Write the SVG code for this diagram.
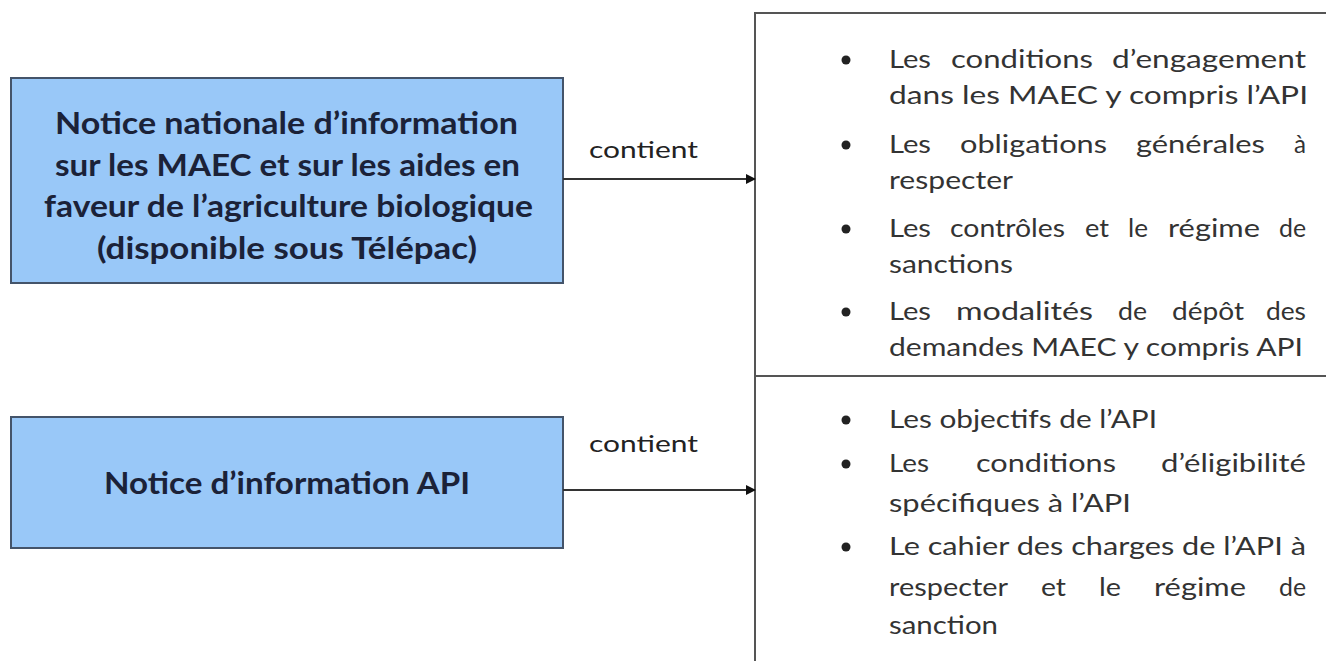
<svg xmlns="http://www.w3.org/2000/svg" width="1326" height="661" viewBox="0 0 1326 661">
<style>
.node{fill:#99c8f8;stroke:#44546a;stroke-width:2}
.title{font-family:Lato,"Liberation Sans",sans-serif;font-weight:bold;font-size:30px;fill:#1b2238}
.item{font-family:Lato,"Liberation Sans",sans-serif;font-size:25px;fill:#333}
.lbl{font-family:Lato,"Liberation Sans",sans-serif;font-size:24px;fill:#222}
.edge{stroke:#333;stroke-width:2;fill:none}
.frame{stroke:#555;stroke-width:2;fill:none}
</style>
<defs>
<marker id="arr" markerWidth="10" markerHeight="10" refX="9" refY="5" orient="auto" markerUnits="userSpaceOnUse">
<path d="M0,0 L10,5 L0,10 z" fill="#111"/>
</marker>
</defs>
<rect width="1326" height="661" fill="#fff"/>
<g id="n1">
<rect class="node" x="11" y="78" width="552" height="205"/>
<text class="title" x="55" y="134" textLength="463" lengthAdjust="spacingAndGlyphs">Notice nationale d’information</text>
<text class="title" x="55" y="176" textLength="465" lengthAdjust="spacingAndGlyphs">sur les MAEC et sur les aides en</text>
<text class="title" x="44" y="217" textLength="489" lengthAdjust="spacingAndGlyphs">faveur de l’agriculture biologique</text>
<text class="title" x="97" y="259" textLength="380" lengthAdjust="spacingAndGlyphs">(disponible sous Télépac)</text>
</g>
<g id="n2">
<rect class="node" x="11" y="417" width="552" height="131"/>
<text class="title" x="104" y="494" textLength="366" lengthAdjust="spacingAndGlyphs">Notice d’information API</text>
</g>
<g id="n3">
<path class="frame" d="M1326,13 H755 V661 M755,376 H1326"/>
<g fill="#222">
<circle cx="846" cy="60" r="4.5"/>
<circle cx="846" cy="145" r="4.5"/>
<circle cx="846" cy="229" r="4.5"/>
<circle cx="846" cy="312" r="4.5"/>
<circle cx="846" cy="420" r="4.5"/>
<circle cx="846" cy="464" r="4.5"/>
<circle cx="846" cy="547" r="4.5"/>
</g>
<g>
<text class="item" x="889" y="68" textLength="42" lengthAdjust="spacingAndGlyphs">Les</text>
<text class="item" x="951" y="68" textLength="142" lengthAdjust="spacingAndGlyphs">conditions</text>
<text class="item" x="1112" y="68" textLength="194" lengthAdjust="spacingAndGlyphs">d’engagement</text>
<text class="item" x="889" y="104" textLength="419" lengthAdjust="spacingAndGlyphs">dans les MAEC y compris l’API</text>
<text class="item" x="889" y="153" textLength="42" lengthAdjust="spacingAndGlyphs">Les</text>
<text class="item" x="960" y="153" textLength="147" lengthAdjust="spacingAndGlyphs">obligations</text>
<text class="item" x="1136" y="153" textLength="129" lengthAdjust="spacingAndGlyphs">générales</text>
<text class="item" x="1294" y="153" textLength="12" lengthAdjust="spacingAndGlyphs">à</text>
<text class="item" x="889" y="189" textLength="124" lengthAdjust="spacingAndGlyphs">respecter</text>
<text class="item" x="889" y="237" textLength="42" lengthAdjust="spacingAndGlyphs">Les</text>
<text class="item" x="950" y="237" textLength="115" lengthAdjust="spacingAndGlyphs">contrôles</text>
<text class="item" x="1085" y="237" textLength="24" lengthAdjust="spacingAndGlyphs">et</text>
<text class="item" x="1128" y="237" textLength="20" lengthAdjust="spacingAndGlyphs">le</text>
<text class="item" x="1168" y="237" textLength="92" lengthAdjust="spacingAndGlyphs">régime</text>
<text class="item" x="1279" y="237" textLength="27" lengthAdjust="spacingAndGlyphs">de</text>
<text class="item" x="889" y="273" textLength="124" lengthAdjust="spacingAndGlyphs">sanctions</text>
<text class="item" x="889" y="320" textLength="42" lengthAdjust="spacingAndGlyphs">Les</text>
<text class="item" x="956" y="320" textLength="137" lengthAdjust="spacingAndGlyphs">modalités</text>
<text class="item" x="1118" y="320" textLength="29" lengthAdjust="spacingAndGlyphs">de</text>
<text class="item" x="1172" y="320" textLength="72" lengthAdjust="spacingAndGlyphs">dépôt</text>
<text class="item" x="1266" y="320" textLength="40" lengthAdjust="spacingAndGlyphs">des</text>
<text class="item" x="889" y="356" textLength="414" lengthAdjust="spacingAndGlyphs">demandes MAEC y compris API</text>
<text class="item" x="889" y="428" textLength="268" lengthAdjust="spacingAndGlyphs">Les objectifs de l’API</text>
<text class="item" x="889" y="472" textLength="40" lengthAdjust="spacingAndGlyphs">Les</text>
<text class="item" x="976" y="472" textLength="140" lengthAdjust="spacingAndGlyphs">conditions</text>
<text class="item" x="1161" y="472" textLength="145" lengthAdjust="spacingAndGlyphs">d’éligibilité</text>
<text class="item" x="889" y="512" textLength="242" lengthAdjust="spacingAndGlyphs">spécifiques à l’API</text>
<text class="item" x="889" y="555" textLength="417" lengthAdjust="spacingAndGlyphs">Le cahier des charges de l’API à</text>
<text class="item" x="889" y="596" textLength="119" lengthAdjust="spacingAndGlyphs">respecter</text>
<text class="item" x="1041" y="596" textLength="25" lengthAdjust="spacingAndGlyphs">et</text>
<text class="item" x="1099" y="596" textLength="22" lengthAdjust="spacingAndGlyphs">le</text>
<text class="item" x="1154" y="596" textLength="92" lengthAdjust="spacingAndGlyphs">régime</text>
<text class="item" x="1279" y="596" textLength="27" lengthAdjust="spacingAndGlyphs">de</text>
<text class="item" x="889" y="634" textLength="109" lengthAdjust="spacingAndGlyphs">sanction</text>
</g>
</g>
<g id="edges">
<line class="edge" x1="563" y1="179" x2="755" y2="179" marker-end="url(#arr)"/>
<line class="edge" x1="563" y1="490" x2="755" y2="490" marker-end="url(#arr)"/>
<text class="lbl" x="589" y="158" textLength="109" lengthAdjust="spacingAndGlyphs">contient</text>
<text class="lbl" x="589" y="452" textLength="109" lengthAdjust="spacingAndGlyphs">contient</text>
</g>
</svg>
